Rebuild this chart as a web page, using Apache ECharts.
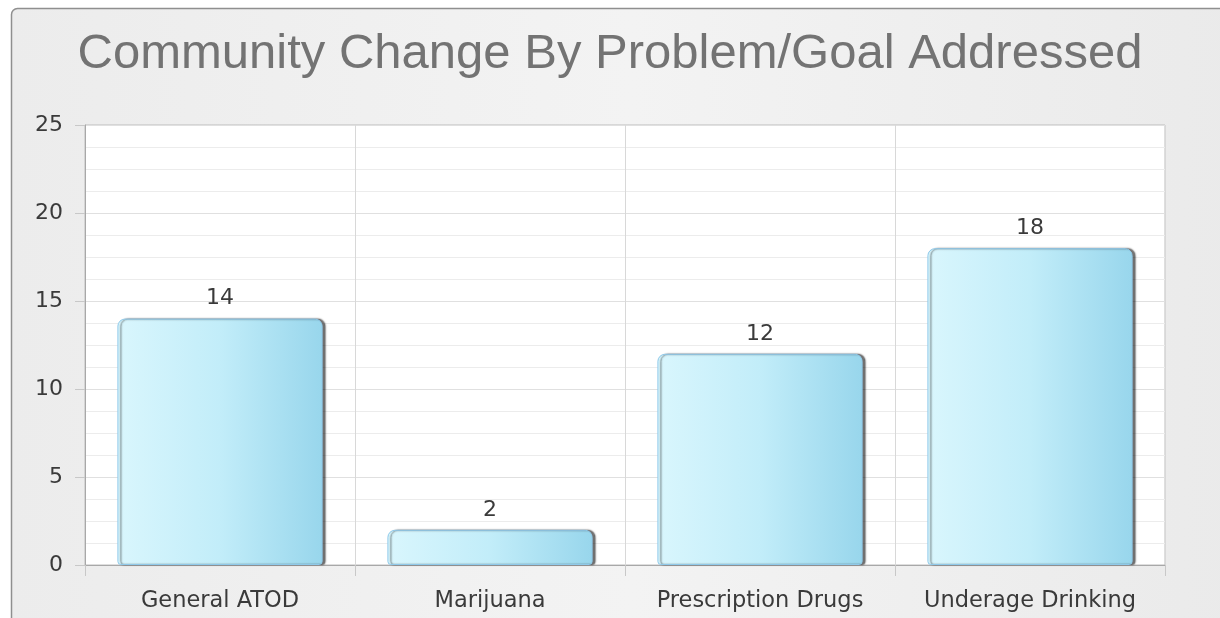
<!DOCTYPE html>
<html>
<head>
<meta charset="utf-8">
<script src="https://cdn.jsdelivr.net/npm/echarts@6/dist/echarts.min.js"></script>
<style>
  html, body { margin: 0; padding: 0; background: #ffffff; }
  #chart { width: 1220px; height: 618px; }
</style>
</head>
<body>
<div id="chart"></div>
<script>
// Chart data
const titleText = 'Community Change By Problem/Goal Addressed';
const categories = ['General ATOD', 'Marijuana', 'Prescription Drugs', 'Underage Drinking'];
const values = [14, 2, 12, 18];
const yMin = 0;
const yMax = 25;
const yStep = 5;

const chart = echarts.init(document.getElementById('chart'), null, { renderer: 'canvas' });

const labelFont = 'DejaVu Sans';

const option = {
  backgroundColor: '#ffffff',
  animation: false,
  graphic: [
    {
      type: 'rect',
      z: -10,
      shape: { x: 11.5, y: 8.5, width: 1240, height: 640, r: 6 },
      style: {
        fill: new echarts.graphic.LinearGradient(0, 0, 1, 0, [
          { offset: 0, color: '#ececec' },
          { offset: 0.5, color: '#f3f3f3' },
          { offset: 1, color: '#eaeaea' }
        ]),
        stroke: '#8f8f8f',
        lineWidth: 1.5
      }
    }
  ],
  title: {
    text: titleText,
    left: 'center',
    top: 25,
    textStyle: {
      fontFamily: 'Liberation Sans',
      fontSize: 49,
      fontWeight: 'normal',
      color: '#737373'
    }
  },
  grid: {
    left: 85,
    right: 55,
    top: 125,
    bottom: 53,
    show: true,
    backgroundColor: '#ffffff',
    borderColor: '#bdbdbd',
    borderWidth: 1
  },
  xAxis: {
    type: 'category',
    data: categories,
    boundaryGap: true,
    axisLine: { show: true, lineStyle: { color: '#a8a8a8', width: 1 } },
    axisTick: { show: true, interval: 0, length: 11, lineStyle: { color: '#c8c8c8' } },
    splitLine: { show: true, interval: 0, lineStyle: { color: '#d8d8d8', width: 1 } },
    axisLabel: {
      interval: 0,
      hideOverlap: false,
      margin: 25,
      fontFamily: labelFont,
      fontSize: 22.5,
      color: '#3a3a3a'
    }
  },
  yAxis: {
    type: 'value',
    min: yMin,
    max: yMax,
    interval: yStep,
    axisLine: { show: true, lineStyle: { color: '#a8a8a8', width: 1 } },
    axisTick: { show: true, length: 10, lineStyle: { color: '#c8c8c8' } },
    splitLine: { show: true, lineStyle: { color: '#e0e0e0', width: 1 } },
    minorTick: { show: false, splitNumber: 4 },
    minorSplitLine: { show: true, lineStyle: { color: '#ececec', width: 1 } },
    axisLabel: {
      margin: 22,
      fontFamily: labelFont,
      fontSize: 22,
      color: '#3a3a3a'
    }
  },
  series: [
    {
      type: 'bar',
      data: values,
      barCategoryGap: '24%',
      itemStyle: {
        color: new echarts.graphic.LinearGradient(0, 0, 1, 0, [
          { offset: 0, color: '#d9f6fd' },
          { offset: 0.5, color: '#c2edf9' },
          { offset: 1, color: '#98d6ec' }
        ]),
        borderColor: '#8fc9ea',
        borderWidth: 1,
        borderRadius: [7, 7, 3, 3],
        shadowColor: 'rgba(0,0,0,0.55)',
        shadowBlur: 1.5,
        shadowOffsetX: 3,
        shadowOffsetY: 0
      },
      label: {
        show: true,
        position: 'top',
        distance: 9,
        fontFamily: labelFont,
        fontSize: 22,
        color: '#3a3a3a'
      }
    }
  ]
};

chart.setOption(option);
</script>
</body>
</html>
